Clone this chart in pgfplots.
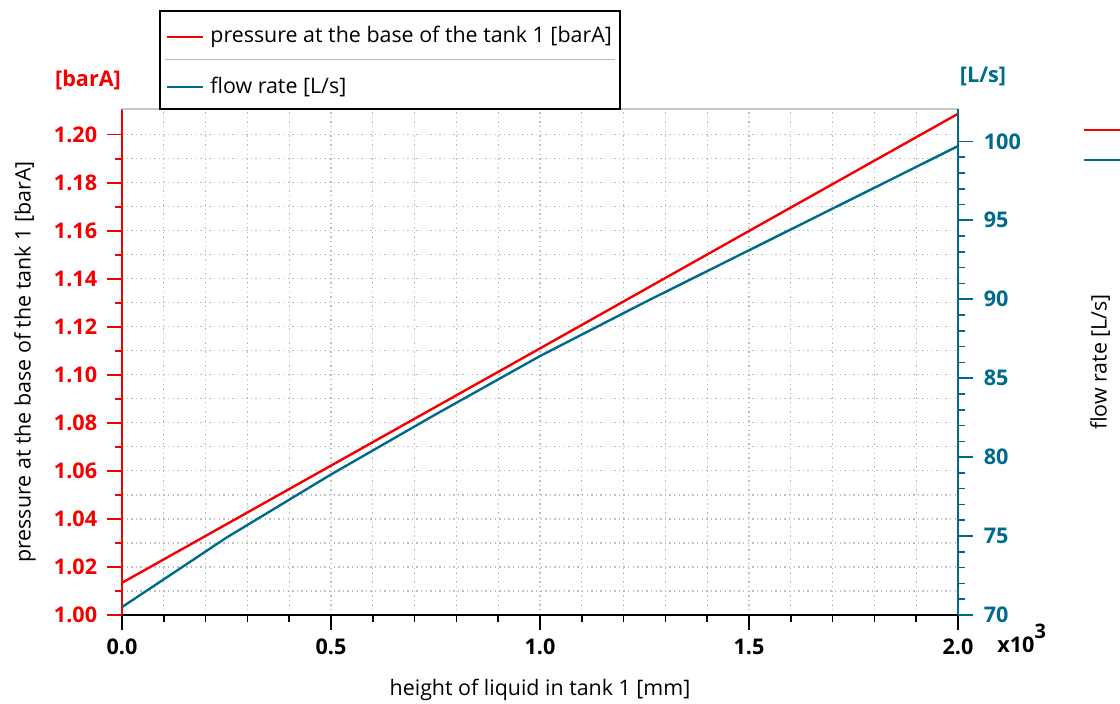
\documentclass[border=0pt]{standalone}
\usepackage{fontspec}
\setmainfont{Open Sans}
\usepackage{pgfplots}
\pgfplotsset{compat=1.18}
\definecolor{pred}{RGB}{245,0,0}
\definecolor{fteal}{RGB}{0,106,140}
\definecolor{gridg}{RGB}{190,190,190}

\pgfplotstableread{
h p
0.0 1.0134
0.5 1.0622
1.0 1.1110
1.5 1.1599
2.0 1.2087
}\pressure

\pgfplotstableread{
h q
0.00 70.5
0.25 74.9
0.50 78.9
0.75 82.7
1.00 86.4
1.25 89.8
1.50 93.1
1.75 96.4
2.00 99.7
}\flow

\newcommand{\tickfont}{\bfseries\fontsize{10.8}{13}\selectfont}
\newcommand{\labfont}{\fontsize{10.7}{13}\selectfont}

\begin{document}
\begin{tikzpicture}[x=1pt,y=1pt]
\useasboundingbox (-61,-44.5) rectangle (499,307.5);
\begin{axis}[
  at={(0,0)}, anchor=south west,
  scale only axis, width=418pt, height=253pt,
  xmin=0, xmax=2, ymin=1.0, ymax=1.2107,
  axis y line*=left, axis x line*=bottom,
  x axis line style={black, line width=1.1pt},
  y axis line style={pred, line width=1pt},
  xtick={0,0.5,...,2}, minor x tick num=4,
  ytick={1.00,1.02,...,1.201}, minor y tick num=1,
  tick align=outside, major tick length=7.5pt, minor tick length=3.5pt,
  xtick style={black, line width=0.8pt},
  ytick style={pred, line width=0.8pt},
  grid=both,
  major grid style={gridg, line width=0.6pt, dash pattern=on 0.7pt off 1.6pt},
  minor grid style={gridg, line width=0.6pt, dash pattern=on 0.7pt off 1.6pt},
  /pgf/number format/assume math mode=true,
  xticklabel style={black, font=\tickfont, yshift=-1pt, /pgf/number format/.cd, fixed, fixed zerofill, precision=1},
  yticklabel style={pred, font=\tickfont, xshift=-1.4pt, /pgf/number format/.cd, fixed, fixed zerofill, precision=2},
  xlabel={height of liquid in tank 1 [mm]},
  xlabel style={at={(axis description cs:0.5,-0.1482)}, anchor=center, font=\labfont},
  ylabel={pressure at the base of the tank 1 [barA]},
  ylabel style={at={(axis description cs:-0.116,0.5)}, anchor=center, font=\labfont},
]
\addplot[pred, line width=1.2pt] table[x=h, y=p] {\pressure};
\end{axis}
\begin{axis}[
  at={(0,0)}, anchor=south west,
  scale only axis, width=418pt, height=253pt,
  xmin=0, xmax=2, ymin=70, ymax=102.05,
  axis y line*=right, axis x line*=top,
  x axis line style={gray!45, line width=0.8pt},
  xtick=\empty,
  y axis line style={fteal, line width=1pt},
  ytick={70,75,...,100}, minor y tick num=4,
  tick align=outside, major tick length=7.5pt, minor tick length=3.5pt,
  ytick style={fteal, line width=0.8pt},
  /pgf/number format/assume math mode=true,
  yticklabel style={fteal, font=\tickfont, xshift=1.9pt},
  ylabel={flow rate [L/s]},
  ylabel style={at={(axis description cs:1.1699,0.5)}, anchor=center, rotate=0, font=\labfont},
]
\addplot[fteal, line width=1.2pt] table[x=h, y=q] {\flow};
\end{axis}
% legend
\draw[black, line width=0.6pt, fill=white] (19,253) rectangle (249,302);
\draw[pred, line width=1.2pt] (22.5,289) -- (40.5,289);
\node[anchor=west, inner sep=0pt, font=\labfont] at (44,289) {pressure at the base of the tank 1 [barA]};
\draw[gray!55, line width=0.5pt] (21.5,277.5) -- (246.5,277.5);
\draw[fteal, line width=1.2pt] (22.5,264) -- (40.5,264);
\node[anchor=west, inner sep=0pt, font=\labfont] at (44,264) {flow rate [L/s]};
% unit labels
\node[pred, font=\tickfont] at (-17,267.5) {[barA]};
\node[fteal, font=\tickfont] at (430.5,269) {[L/s]};
\node[black, font=\tickfont, anchor=base west, inner sep=0pt] at (437.5,-19) {x10\raisebox{1.2ex}{\fontsize{10}{11}\selectfont 3}};
% cut-off legend at the right edge
\draw[pred, line width=1.2pt] (481,242.5) -- (499,242.5);
\draw[fteal, line width=1.2pt] (481,227.5) -- (499,227.5);
\end{tikzpicture}
\end{document}
